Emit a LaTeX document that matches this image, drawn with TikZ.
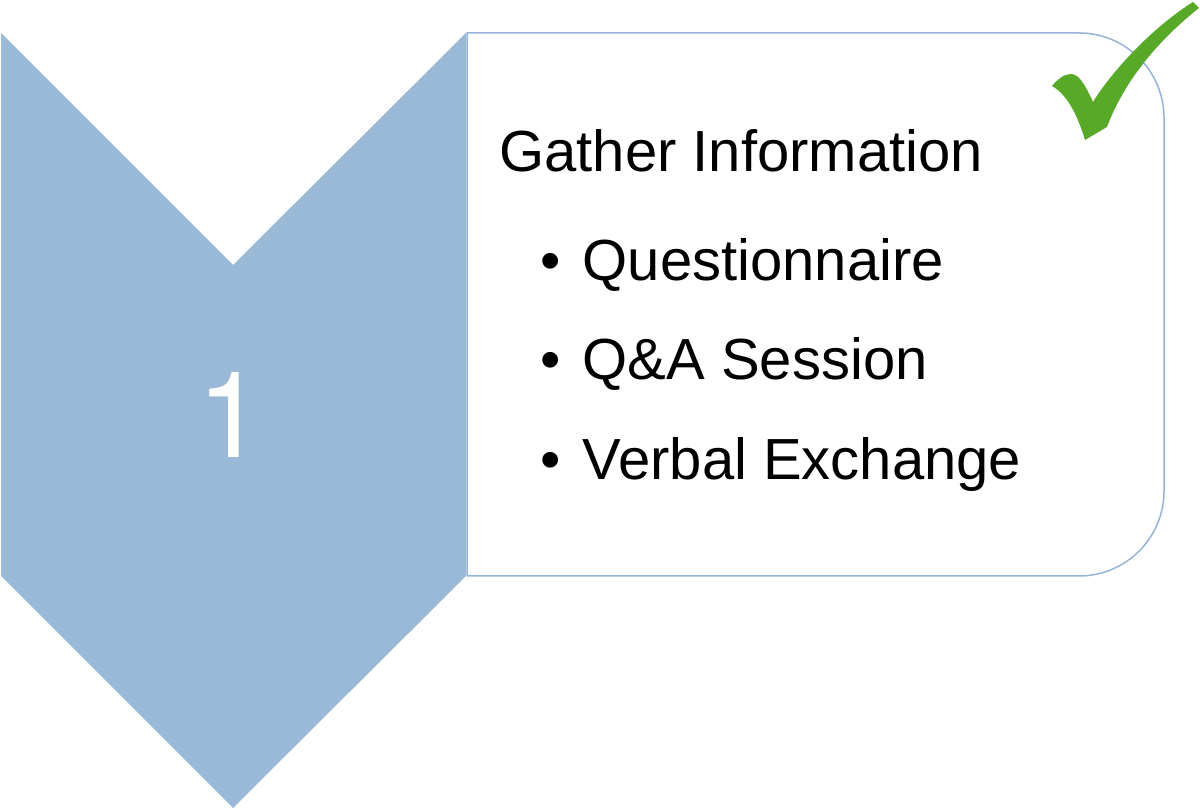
\documentclass[tikz,border=0pt]{standalone}
\usepackage{fontspec}
\setmainfont{Liberation Sans}
\newfontfamily\digitfont{TeX Gyre Heros}
\usepackage{xcolor}
\definecolor{chevblue}{HTML}{99B9D7}
\definecolor{boxline}{HTML}{95B3D7}
\definecolor{tickgreen}{HTML}{58A928}
\begin{document}
\begin{tikzpicture}[line cap=round,line join=round,x=0.5pt,y=0.5pt,
	itemtext/.style={anchor=base west,inner sep=0pt,font=\fontsize{29}{35}\selectfont},
	bigdigit/.style={text=white,inner sep=0pt,font=\digitfont\fontsize{60}{72}\selectfont}]
		\useasboundingbox (0,0) rectangle (1200,809);
		% chevron
		\fill [chevblue] (1,776) -- (233,544) -- (466,776) -- (466,233) -- (233,1) -- (1,233) -- cycle;
		% box with rounded right corners
		\draw [boxline,line width=0.75pt] (467,776) -- (1079,776) arc[start angle=90,end angle=0,radius=85] -- (1164,318) arc[start angle=0,end angle=-90,radius=85] -- (467,233) -- cycle;
		% tick
		\fill [tickgreen] (1052,723) .. controls (1058,730) and (1064,735) .. (1071,735) .. controls (1078,735) and (1084,727) .. (1093,707) .. controls (1110,735) and (1150,780) .. (1193,807) -- (1199,801) .. controls (1160,770) and (1125,730) .. (1107,682) -- (1085,669) .. controls (1078,692) and (1068,714) .. (1052,723) -- cycle;
		\node [bigdigit] (num) at (231,394) {1};
		\node [itemtext] (title) at (499,637) {Gather Information};
		\node [itemtext] (itemA) at (540,528) {•\hspace{11pt}Questionnaire};
		\node [itemtext] (itemB) at (540,429) {•\hspace{11pt}Q\&A Session};
		\node [itemtext] (itemC) at (540,329) {•\hspace{11pt}Verbal Exchange};
\end{tikzpicture}
\end{document}
